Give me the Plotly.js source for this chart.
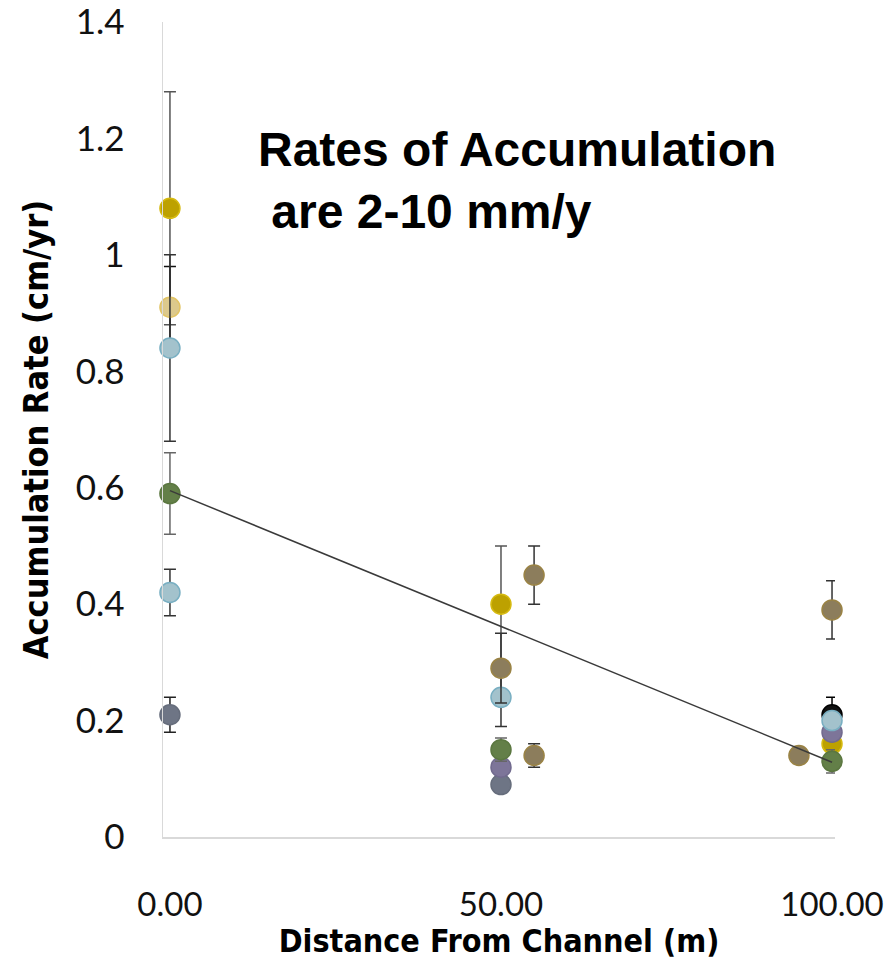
<!DOCTYPE html>
<html>
<head>
<meta charset="utf-8">
<script src="https://cdn.plot.ly/plotly-3.0.1.min.js"></script>
<style>html,body{margin:0;padding:0;background:#fff;}#chart{width:890px;height:960px;}</style>
</head>
<body>
<div id="chart"></div>
<script>
// Distances from channel (m) and accumulation rates (cm/yr), per site series
const blackX = [100];          const blackY = [0.21];          const blackErr = [0.03];
const slateX = [0, 50];        const slateY = [0.21, 0.09];    const slateErr = [0.03, 0];
const goldX = [0, 50, 100];    const goldY = [1.08, 0.40, 0.16]; const goldErr = [0.20, 0.10, 0];
const purpleX = [50, 100];     const purpleY = [0.12, 0.18];   const purpleErr = [0, 0];
const lightGoldX = [0];        const lightGoldY = [0.91];      const lightGoldErr = [0.07];
const lightBlueX = [0, 0, 50, 100]; const lightBlueY = [0.84, 0.42, 0.24, 0.20]; const lightBlueErr = [0.16, 0.04, 0.05, 0];
const brownX = [50, 55, 55, 95, 100]; const brownY = [0.29, 0.45, 0.14, 0.14, 0.39]; const brownErr = [0.06, 0.05, 0.02, 0, 0.05];
const greenX = [0, 50, 100];   const greenY = [0.59, 0.15, 0.13]; const greenErr = [0.07, 0.02, 0.02];

const xTicks = [0, 50, 100];
const yTicks = [0, 0.2, 0.4, 0.6, 0.8, 1, 1.2, 1.4];

const series = [
  {x: blackX, y: blackY, e: blackErr, fill: '#111111', line: '#000000', bar: '#000000'},
  {x: slateX, y: slateY, e: slateErr, fill: '#6E7585', line: '#666D7C', bar: '#222222'},
  {x: goldX, y: goldY, e: goldErr, fill: '#BDA100', line: '#D6BA10', bar: '#555555'},
  {x: purpleX, y: purpleY, e: purpleErr, fill: '#7D7599', line: '#716A8E', bar: '#222222'},
  {x: lightGoldX, y: lightGoldY, e: lightGoldErr, fill: '#DCC98C', line: '#E2C464', bar: '#111111'},
  {x: lightBlueX, y: lightBlueY, e: lightBlueErr, fill: '#A3C2CC', line: '#79AFC2', bar: '#333333'},
  {x: brownX, y: brownY, e: brownErr, fill: '#8C7D5C', line: '#9A8345', bar: '#333333'},
  {x: greenX, y: greenY, e: greenErr, fill: '#637F48', line: '#5B7740', bar: '#666666'}
];

const traces = series.map(s => ({
  type: 'scatter', mode: 'markers', x: s.x, y: s.y, cliponaxis: false,
  marker: {size: 20, color: s.fill, line: {color: s.line, width: 1.5}},
  error_y: {type: 'data', array: s.e, visible: true, color: s.bar, thickness: 1.5, width: 6},
  hoverinfo: 'x+y', showlegend: false
}));

// Linear least-squares trendline through all points
let allX = [], allY = [];
series.forEach(s => { allX = allX.concat(s.x); allY = allY.concat(s.y); });
const n = allX.length;
const mx = allX.reduce((a, b) => a + b, 0) / n;
const my = allY.reduce((a, b) => a + b, 0) / n;
let sxy = 0, sxx = 0;
for (let i = 0; i < n; i++) { sxy += (allX[i] - mx) * (allY[i] - my); sxx += (allX[i] - mx) ** 2; }
const slope = sxy / sxx, intercept = my - slope * mx;
const trendX = [Math.min(...allX), Math.max(...allX)];
traces.push({
  type: 'scatter', mode: 'lines', x: trendX, y: trendX.map(v => intercept + slope * v),
  line: {color: '#3a3a3a', width: 1.5}, showlegend: false, hoverinfo: 'skip'
});

const titleFont = '"Liberation Sans Narrow", "DejaVu Sans Condensed", "Open Sans", sans-serif';

const layout = {
  width: 890, height: 960,
  margin: {l: 163, r: 55, t: 22, b: 123},
  paper_bgcolor: '#ffffff', plot_bgcolor: '#ffffff',
  showlegend: false,
  xaxis: {
    range: [-1.05, 100.45], tickvals: xTicks, ticktext: xTicks.map(v => v.toFixed(2)),
    showgrid: false, zeroline: false, showline: true, linecolor: '#D9D9D9', linewidth: 1.5,
    ticks: '', ticklabelstandoff: 38, ticklabeloverflow: 'allow',
    tickfont: {family: 'Lato, sans-serif', size: 33, color: '#111111'},
    title: {text: 'Distance From Channel (m)', standoff: 9,
      font: {family: titleFont, size: 32, color: '#000', weight: 'bold'}}
  },
  yaxis: {
    range: [0, 1.4], tickvals: yTicks, ticktext: yTicks.map(v => String(v)),
    showgrid: false, zeroline: false, showline: true, linecolor: '#D9D9D9', linewidth: 1.5,
    ticks: '', ticklabelstandoff: 30, ticklabeloverflow: 'allow',
    tickfont: {family: 'Lato, sans-serif', size: 35, color: '#111111'},
    title: {text: 'Accumulation Rate (cm/yr)', standoff: 16,
      font: {family: titleFont, size: 34, color: '#000', weight: 'bold'}}
  },
  annotations: [{
    xref: 'paper', yref: 'paper', x: 0.139, y: 0.879, xanchor: 'left', yanchor: 'top', align: 'left',
    showarrow: false,
    text: 'Rates of Accumulation<br>\u00A0are 2-10 mm/y',
    font: {family: '"Liberation Sans", Arial, sans-serif', size: 48, color: '#000', weight: 'bold'}
  }]
};

Plotly.newPlot('chart', traces, layout, {displayModeBar: false, staticPlot: true});
</script>
</body>
</html>
